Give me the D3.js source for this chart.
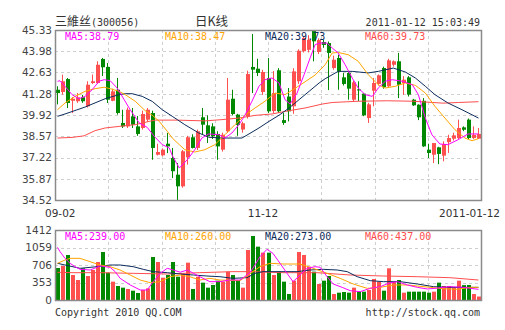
<!DOCTYPE html>
<html>
<head>
<meta charset="utf-8">
<script src="https://cdnjs.cloudflare.com/ajax/libs/d3/7.8.5/d3.min.js"></script>
<style>
  body { margin: 0; background: #fff; }
</style>
</head>
<body>
<div id="chart"></div>
<script>
// daily K-line for 三維丝 (300056), 09-02 .. 2011-01-12
const opens  = [41.53,41.39,42.21,40.83,40.80,41.05,40.48,41.96,41.96,43.49,42.98,40.83,41.53,39.42,39.20,39.84,39.20,39.10,39.63,40.05,
                37.40,37.36,38.10,37.19,36.13,35.39,37.24,38.51,37.83,39.78,39.27,39.20,38.72,37.72,38.89,40.96,39.95,39.00,39.84,42.98,
                42.87,41.39,42.28,40.18,42.77,39.60,41.10,40.48,42.07,43.98,44.07,45.33,43.93,44.57,44.50,42.91,43.55,42.32,42.60,40.90,
                41.55,41.28,39.73,41.47,41.90,42.91,41.75,43.12,43.34,41.96,42.32,40.90,40.58,40.83,37.72,37.40,37.87,37.34,38.20,38.42,
                38.46,39.14,39.63,38.46,38.42];
const highs  = [41.75,42.49,42.28,41.07,41.32,41.20,42.07,42.50,43.34,43.55,43.23,41.60,42.28,40.26,40.40,40.37,39.86,40.20,40.37,40.20,
                38.10,37.80,38.78,37.83,36.87,37.70,38.60,38.70,39.00,40.37,39.90,39.40,38.89,38.80,42.28,41.53,40.00,39.50,42.74,45.08,
                43.50,42.80,43.55,42.72,42.90,40.05,41.64,42.90,44.10,44.90,45.00,45.33,44.80,44.70,44.60,43.70,43.76,42.60,42.65,42.10,
                42.07,41.30,40.70,42.28,42.50,43.00,43.50,43.40,43.87,42.40,42.40,40.95,40.60,41.00,38.10,38.14,37.90,38.25,38.67,38.80,
                39.63,39.20,39.70,39.20,39.10];
const lows   = [40.60,41.22,40.37,40.05,40.70,40.70,40.40,41.90,41.90,42.40,40.69,40.80,39.95,39.10,39.10,39.10,38.60,39.00,39.50,37.08,
                37.35,37.30,37.50,35.92,34.52,35.30,36.77,37.80,37.70,38.67,38.14,38.40,37.08,37.60,38.80,39.90,38.60,38.80,39.70,41.32,
                42.40,41.20,40.05,40.05,40.05,39.30,39.52,40.00,41.90,43.90,43.90,43.34,43.80,44.20,41.51,42.80,41.53,41.80,40.90,40.80,
                40.80,39.85,39.42,40.48,41.80,41.60,41.70,43.00,41.00,41.20,41.10,40.50,39.60,37.90,37.19,36.87,36.80,36.98,37.51,38.30,
                38.40,38.90,38.40,38.40,38.40];
const closes = [41.32,42.07,40.69,40.96,41.05,40.80,41.85,42.07,43.12,42.96,40.90,41.43,40.05,39.20,40.26,39.31,38.72,39.99,40.26,37.83,
                37.57,37.72,37.93,36.35,35.39,37.62,38.51,37.83,38.89,39.31,38.57,38.57,37.93,38.67,40.90,39.99,39.30,39.40,42.53,42.81,
                42.60,42.66,40.16,41.32,40.16,39.42,40.16,42.70,44.01,44.82,44.71,44.61,44.69,44.38,43.87,43.44,42.70,41.90,41.60,42.00,
                41.52,39.90,40.60,41.96,42.45,41.69,43.40,43.34,41.85,42.17,41.22,40.54,39.78,37.93,37.51,38.14,37.45,38.08,38.46,38.63,
                39.10,38.99,38.46,38.67,38.72];
const volumes = [645,686,908,504,403,639,484,605,766,968,551,370,282,249,222,188,141,202,235,867,
                 766,450,504,766,470,530,753,222,470,350,249,303,390,370,572,504,403,249,1009,1291,
                 1076,955,955,504,572,370,121,390,968,908,672,572,323,390,484,121,148,161,148,249,
                 168,168,202,424,370,188,639,370,403,148,168,168,168,168,148,168,350,282,282,249,
                 390,300,303,120,70];

// moving averages: [session index, value]
const ma5 = [[0,42.07],[0.5,42.1],[1.5,41.75],[2.9,41.22],[4.3,40.96],[5.5,41.11],[6.9,41.53],[8.3,42.07],[9.3,42.17],[10.5,42.11],
  [11.9,41.64],[13.3,40.9],[14.5,40.26],[16.3,39.42],[17.9,39.14],[19.3,38.57],[20.9,38.04],[22.3,37.83],[22.9,37.35],[24.3,36.55],
  [25.9,37.08],[27.4,37.72],[28.8,38.46],[30.2,38.72],[32.2,38.67],[33.4,38.46],[34.8,38.78],[36.2,39.31],[37.4,39.91],[38.8,40.8],
  [40.2,41.75],[41.4,42.17],[42.8,42.28],[44.2,41.96],[45.4,40.9],[46.4,40.62],[47.8,41.32],[49.2,42.49],[50.4,43.55],[51.4,44.4],
  [52.4,44.5],[53.8,44.5],[54.8,44.19],[56,43.87],[57.4,43.12],[58.8,42.28],[60,41.64],[61.4,41.22],[62.8,41.11],[64,41.64],
  [65.4,42.07],[66.8,42.17],[68.8,42.07],[70.8,41.85],[72,41.22],[73.4,39.73],[74.7,38.67],[76.3,38.08],[77.9,38.04],[79.9,38.35],
  [81.9,38.72],[84,38.72]];
const ma10 = [[0,40.26],[1.5,40.69],[3.5,41.11],[5.5,41.43],[7.5,41.6],[9.3,41.69],[10.5,41.6],[12.3,41.43],[13.5,41.22],[15.5,40.8],
  [17.5,40.2],[18.9,39.91],[20.3,39.52],[21.9,38.89],[22.9,38.46],[24.3,38.04],[25.4,37.72],[27.4,37.57],[29.4,37.72],[31.4,38.04],
  [33.4,38.67],[35.4,39.31],[37.4,39.91],[39.4,40.37],[41.4,40.8],[43.4,41.32],[45.4,41.22],[47.4,41.62],[49.4,42.04],[51.4,42.47],
  [53.4,43.12],[54.8,43.87],[56,43.9],[58,43.76],[60,43.34],[62,42.49],[64,41.85],[65.4,41.64],[67.4,41.75],[69.4,41.96],
  [71.4,41.81],[73.4,41.32],[75.3,40.48],[77.3,39.73],[79.3,38.99],[81.3,38.46],[82.7,38.29],[84,38.42]];
const ma20 = [[0,39.84],[1.5,39.99],[5.5,40.43],[9.5,40.96],[12.3,41.22],[13.5,41.28],[14.9,41.28],[16.9,41.11],[18.9,40.79],[20.9,40.26],
  [22.9,39.84],[23.9,39.63],[25.4,39.31],[28.2,38.78],[30.2,38.51],[32.8,38.46],[36.8,38.46],[38.2,38.72],[40.2,39.1],[42.2,39.52],
  [44.2,39.91],[46.2,40.37],[48.2,40.9],[50.2,41.43],[52.2,41.96],[53.4,42.23],[56,42.7],[58.8,42.7],[62,42.6],[64,42.7],
  [67,42.91],[69.4,42.66],[71.4,42.28],[73.4,41.75],[75.3,41.22],[77.9,40.69],[80.7,40.26],[84,39.73]];
const ma60 = [[0,38.46],[2.9,38.5],[5.3,38.6],[7.5,38.93],[9.5,39.1],[12.3,39.2],[15.5,39.31],[18.3,39.52],[19.5,39.6],[23.9,39.6],
  [29.4,39.55],[32.8,39.63],[36.2,39.73],[39.4,39.9],[42.8,39.99],[46.2,40.2],[49.4,40.37],[52.8,40.62],[54.8,40.72],[60,40.8],
  [65.8,40.83],[71,40.8],[76.9,40.68],[80,40.72],[84,40.77]];

const volMa5 = [[0,1062],[0.5,975],[1.5,840],[2.5,740],[3.5,672],[4.5,619],[6.5,605],[8.5,686],[10.5,659],[11.5,572],
  [12.5,437],[14.5,303],[16.5,202],[17.9,202],[19.1,370],[20.5,538],[21.9,639],[23.1,605],[24.5,560],[25.9,605],
  [27.1,540],[28.4,470],[30.4,370],[32.4,370],[34.4,403],[36.4,403],[37.8,504],[38.4,551],[39.4,706],[40.4,874],
  [41.8,1022],[43,941],[44.4,740],[45.8,538],[47,370],[48.4,504],[49.8,639],[51.4,672],[52.4,660],[53.8,470],
  [55,323],[56.8,255],[58.4,188],[60.4,168],[62.4,235],[64.4,269],[66.4,350],[67.8,370],[69.8,303],[71.8,255],
  [73.8,222],[75.8,240],[78.3,269],[80.9,255],[84,215]];
const volMa10 = [[0,740],[1.5,807],[2.5,840],[4.5,840],[6.5,773],[8.5,706],[10.5,672],[12.5,605],[14.5,504],[16.5,403],
  [18.5,350],[20.5,370],[22.5,470],[24.5,504],[26.4,470],[28.4,403],[30.4,437],[32.4,403],[36.4,390],[38.4,530],
  [40.4,672],[42.4,740],[45,726],[48.4,726],[51,639],[53.8,538],[56.4,437],[59,323],[61.8,235],[64.4,255],
  [67,303],[69.8,303],[71.8,282],[74.4,255],[76.9,229],[79.7,215],[82.3,255],[84,255]];
const volMa20 = [[0,740],[1.5,706],[4.5,639],[7.9,672],[10.5,706],[12.5,706],[15.1,672],[17.1,619],[19.1,572],[21.9,551],
  [24.5,524],[27.1,504],[29.8,484],[32.4,470],[35,437],[37.8,450],[39.4,538],[41,572],[44.4,572],[47.8,572],
  [50.4,605],[53,619],[55.8,605],[57.8,572],[59.8,470],[62.4,390],[65,370],[68.4,370],[71.8,323],[75,269],
  [78.3,255],[81.7,255],[84,255]];
const volMa60 = [[0,558],[3.1,551],[8.5,551],[15.1,538],[21.9,524],[28.4,551],[35,572],[38.4,572],[45,551],[51.8,551],
  [58.4,504],[65,484],[71.8,470],[78.3,450],[84,403]];

const priceTicks = [45.33, 43.98, 42.63, 41.28, 39.92, 38.57, 37.22, 35.87, 34.52];
const volTicks = [1412, 1059, 706, 353, 0];
const dateIdx = [0, 41, 84];
const dateText = ["09-02", "11-12", "2011-01-12"];

const maNames = ["MA5", "MA10", "MA20", "MA60"];
const maLast = ["38.79", "38.47", "39.73", "39.73"];
const volMaLast = ["239.00", "260.00", "273.00", "437.00"];
const maColors = ["#ff00ff", "#ffa500", "#0c2c5c", "#ff4d4d"];

const UP = "#ff5050", DOWN = "#008800";
const MONO = "'DejaVu Sans Mono', monospace";
const SANS = "'DejaVu Sans', sans-serif";

const W = 505, H = 330;
const box = { left: 55, right: 481, top: 30, bottom: 200 };
const vbox = { top: 230, bottom: 300 };

const svg = d3.select("#chart").append("svg")
    .attr("width", W)
    .attr("height", H);

const n = closes.length;
const x = d3.scaleLinear().domain([-0.5, n - 0.5]).range([box.left, box.right]);
const y = d3.scaleLinear().domain([priceTicks[priceTicks.length - 1], priceTicks[0]]).range([box.bottom, box.top]);
const yv = d3.scaleLinear().domain([0, volTicks[0]]).range([vbox.bottom, vbox.top]);
const gx = d3.scaleLinear().domain([0, 8]).range([box.left, box.right]);

// ---- header
const title = svg.append("text")
    .attr("x", box.left)
    .attr("y", 26)
    .attr("fill", "#333");
title.append("tspan")
    .style("font", "12px 'Noto Sans CJK SC'")
    .text("三維丝");
title.append("tspan")
    .style("font", "10px " + MONO)
    .text("(300056)");

svg.append("text")
    .attr("x", 195)
    .attr("y", 26)
    .attr("fill", "#333")
    .style("font", "12.5px 'Noto Sans CJK SC'")
    .text("日K线");

svg.append("text")
    .attr("x", box.right - 1)
    .attr("y", 26)
    .attr("text-anchor", "end")
    .attr("fill", "#333")
    .style("font", "10px " + MONO)
    .text("2011-01-12 15:03:49");

// ---- grids
function grid(top, bottom, yVals, yScale) {
    const g = svg.append("g")
        .attr("stroke", "#cfcfcf")
        .attr("stroke-dasharray", "3,3");
    g.selectAll("line.h")
        .data(yVals)
        .join("line")
        .attr("class", "h")
        .attr("x1", box.left)
        .attr("x2", box.right)
        .attr("y1", d => Math.round(yScale(d)) + 0.5)
        .attr("y2", d => Math.round(yScale(d)) + 0.5);
    g.selectAll("line.v")
        .data(d3.range(1, 8))
        .join("line")
        .attr("class", "v")
        .attr("x1", d => Math.round(gx(d)) + 0.5)
        .attr("x2", d => Math.round(gx(d)) + 0.5)
        .attr("y1", top)
        .attr("y2", bottom);
}
grid(box.top, box.bottom, priceTicks.slice(1, -1), y);
grid(vbox.top, vbox.bottom, volTicks.slice(1, -1), yv);

// ---- axes labels
const yAxis = svg.append("g")
    .attr("transform", `translate(${box.left},0)`)
    .call(d3.axisLeft(y).tickValues(priceTicks).tickFormat(d3.format(".2f")).tickSize(0).tickPadding(3));
const vAxis = svg.append("g")
    .attr("transform", `translate(${box.left},0)`)
    .call(d3.axisLeft(yv).tickValues(volTicks).tickFormat(d3.format("d")).tickSize(0).tickPadding(3));
[yAxis, vAxis].forEach(a => {
    a.select(".domain").remove();
    a.selectAll("text")
        .attr("fill", "#444")
        .style("font", "10.5px " + SANS);
});

svg.selectAll("text.date")
    .data(dateIdx)
    .join("text")
    .attr("class", "date")
    .attr("y", 217)
    .attr("fill", "#333")
    .style("font", "10.5px " + SANS)
    .text((d, i) => dateText[i])
    .attr("x", function (d) {
        const w = this.getComputedTextLength();
        return Math.max(45, Math.min(W - 5 - w, x(d) - w / 2));
    });

// ---- candles
const candles = svg.append("g");
const idx = d3.range(n);
candles.selectAll("line")
    .data(idx)
    .join("line")
    .attr("x1", i => Math.floor(x(i)) + 0.5)
    .attr("x2", i => Math.floor(x(i)) + 0.5)
    .attr("y1", i => y(highs[i]))
    .attr("y2", i => y(lows[i]))
    .attr("stroke", i => closes[i] >= opens[i] ? UP : DOWN);
candles.selectAll("rect")
    .data(idx)
    .join("rect")
    .attr("x", i => Math.floor(x(i)) - 1)
    .attr("width", 4)
    .attr("y", i => y(Math.max(opens[i], closes[i])))
    .attr("height", i => Math.max(1, Math.abs(y(opens[i]) - y(closes[i]))))
    .attr("fill", i => closes[i] >= opens[i] ? UP : DOWN);

// ---- volume bars
svg.append("g").selectAll("rect")
    .data(idx)
    .join("rect")
    .attr("x", i => Math.floor(x(i)) - 1)
    .attr("width", 4)
    .attr("y", i => yv(volumes[i]))
    .attr("height", i => yv(0) - yv(volumes[i]))
    .attr("fill", i => closes[i] >= opens[i] ? UP : DOWN);

// ---- moving average lines
const priceLine = d3.line().x(d => x(d[0])).y(d => y(d[1]));
const volLine = d3.line().x(d => x(d[0])).y(d => yv(d[1]));
[ma60, ma20, ma10, ma5].forEach((s, k) => {
    svg.append("path")
        .datum(s)
        .attr("fill", "none")
        .attr("stroke", maColors[3 - k])
        .attr("stroke-width", 1)
        .attr("d", priceLine);
});
[volMa60, volMa20, volMa10, volMa5].forEach((s, k) => {
    svg.append("path")
        .datum(s)
        .attr("fill", "none")
        .attr("stroke", maColors[3 - k])
        .attr("stroke-width", 1)
        .attr("d", volLine);
});

// ---- frames
[[box.top, box.bottom], [vbox.top, vbox.bottom]].forEach(([t, b]) => {
    svg.append("rect")
        .attr("x", box.left + 0.5)
        .attr("y", t + 0.5)
        .attr("width", box.right - box.left)
        .attr("height", b - t)
        .attr("fill", "none")
        .attr("stroke", "#8a8a8a")
        .attr("stroke-width", 1.5);
});

// ---- MA legends
maNames.forEach((name, k) => {
    svg.append("text")
        .attr("x", box.left + 10 + k * 100)
        .attr("y", 40)
        .attr("fill", maColors[k])
        .style("font", "10px " + MONO)
        .text(name + ":" + maLast[k]);
    svg.append("text")
        .attr("x", box.left + 10 + k * 100)
        .attr("y", 240)
        .attr("fill", maColors[k])
        .style("font", "10px " + MONO)
        .text(name + ":" + volMaLast[k]);
});

// ---- footer
svg.append("text")
    .attr("x", box.left)
    .attr("y", 316)
    .attr("fill", "#333")
    .style("font", "10px " + MONO)
    .text("Copyright 2010 QQ.COM");
svg.append("text")
    .attr("x", box.right - 1)
    .attr("y", 316)
    .attr("text-anchor", "end")
    .attr("fill", "#333")
    .style("font", "10px " + MONO)
    .text("http://stock.qq.com");
</script>
</body>
</html>
